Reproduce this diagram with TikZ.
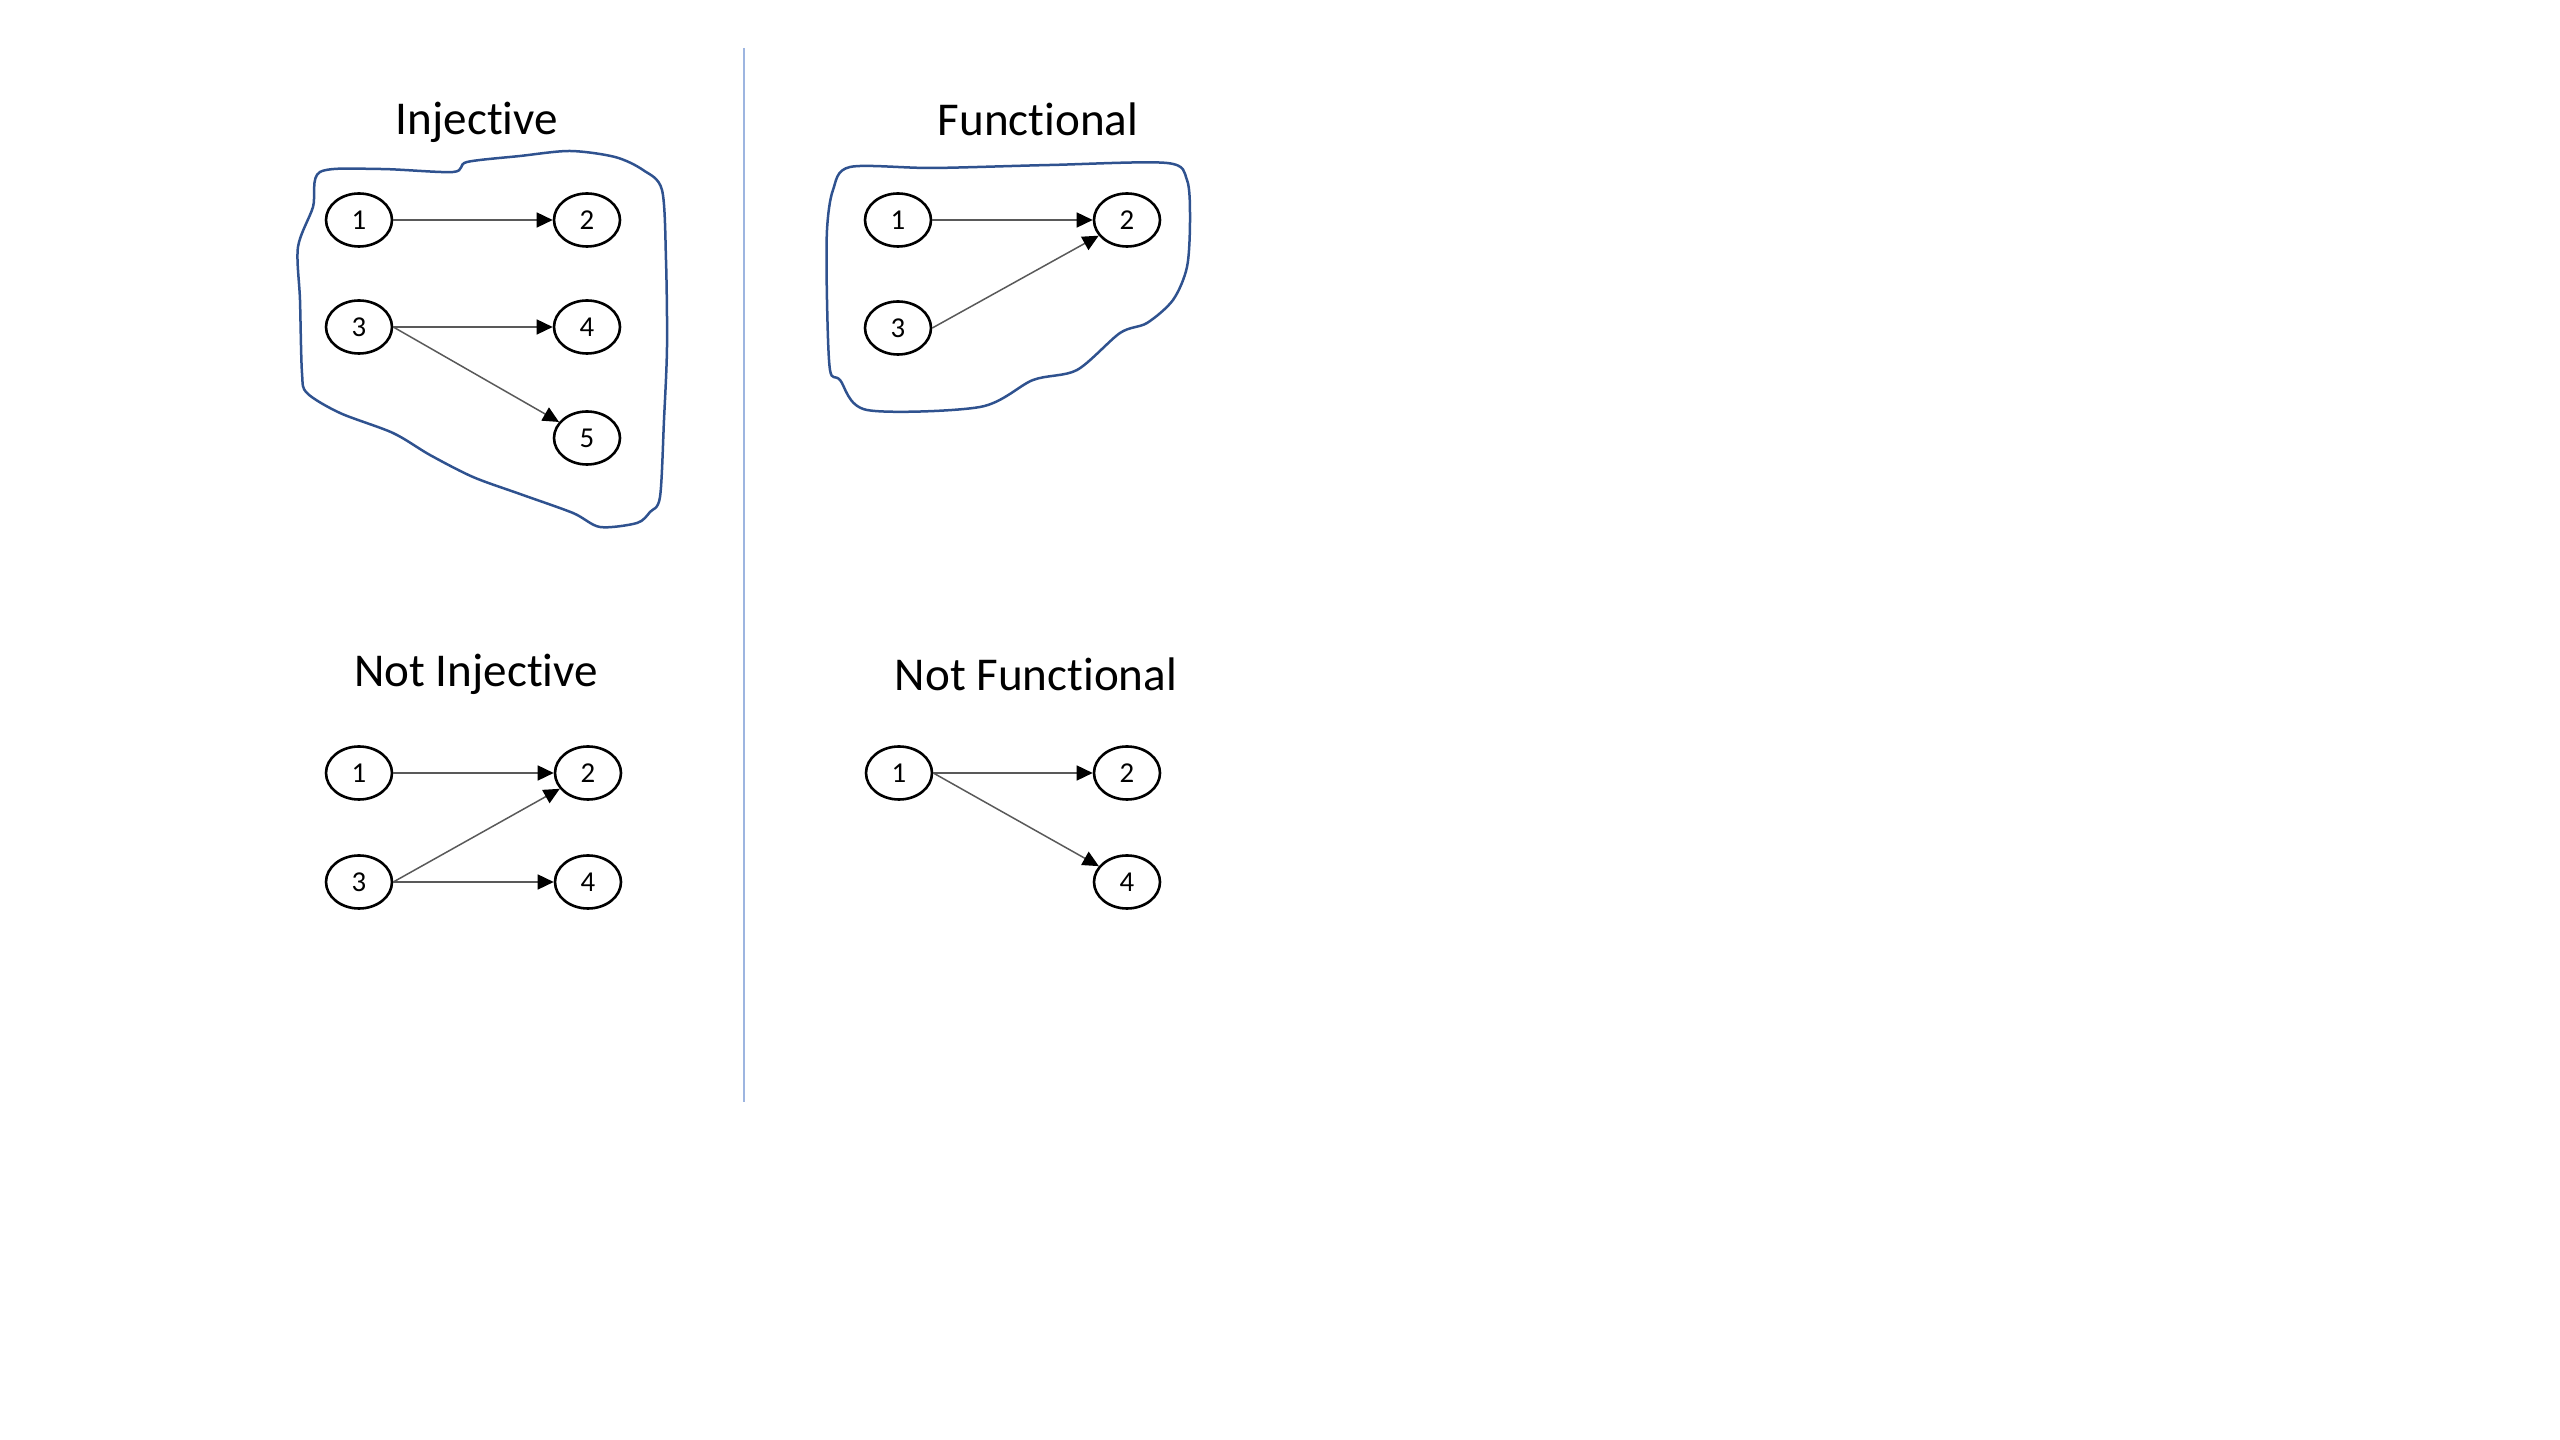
\documentclass[tikz,border=0pt]{standalone}
\usepackage{fontspec}
\setmainfont{Carlito}[Ligatures=NoCommon]
\usetikzlibrary{arrows.meta,shapes.geometric}
\definecolor{blobblue}{HTML}{2F528F}
\definecolor{lineblue}{HTML}{9DB5E0}
\tikzset{
  elem/.style={draw, ellipse, line width=0.26mm, minimum width=6.6mm, minimum height=5.3mm,
    inner sep=0pt, font=\fontsize{8.2pt}{9pt}\selectfont},
  title/.style={font=\fontsize{13.4pt}{15pt}\selectfont},
  maps/.style={draw=black!65, line width=0.15mm, -{Triangle[length=1.6mm,width=1.5mm,color=black]}},
  blob/.style={draw=blobblue, line width=0.25mm}
}
\begin{document}
\begin{tikzpicture}[x=0.1mm, y=-0.1mm]
\useasboundingbox (0,0) rectangle (2560,1440);
%--- Divider ---
\coordinate (top) at (744,48);
\coordinate (bot) at (744,1102);
\draw[lineblue, line width=0.25mm] (top) -- (bot);
%--- Injective ---
\node[title] (tinj) at (477,122) {Injective};
\draw[blob] plot[smooth cycle, tension=0.5] coordinates {
  (320,172) (380,169) (453,172) (467,162) (520,156) (570,151) (615,157) (643,170)
  (662,190) (666,260) (667,347) (664,420) (660,497) (650,512) (637,523) (600,527)
  (573,513) (520,494) (473,477) (430,455) (393,433) (340,413) (307,393) (302,373)
  (300,300) (298,247) (313,207)};
\node[elem] (i1) at (359,220) {1};
\node[elem] (i2) at (587,220) {2};
\node[elem] (i3) at (359,327) {3};
\node[elem] (i4) at (587,327) {4};
\node[elem] (i5) at (587,438) {5};
\draw[maps] (i1) -- (i2);
\draw[maps] (i3) -- (i4);
\draw[maps] (i3.east) -- (i5);
%--- Functional ---
\node[title] (tfun) at (1038,119) {Functional};
\draw[blob] plot[smooth cycle, tension=0.5] coordinates {
  (850,167) (933,168) (1050,165) (1167,163) (1187,180) (1190,220) (1187,267)
  (1173,300) (1147,323) (1120,333) (1077,370) (1033,380) (980,407) (867,410)
  (840,380) (830,370) (827,300) (827,230) (833,190)};
\node[elem] (f1) at (898,220) {1};
\node[elem] (f2) at (1127,220) {2};
\node[elem] (f3) at (898,328) {3};
\draw[maps] (f1) -- (f2);
\draw[maps] (f3.east) -- (f2);
%--- Not Injective ---
\node[title] (tninj) at (476,674) {Not Injective};
\node[elem] (n1) at (359,773) {1};
\node[elem] (n2) at (588,773) {2};
\node[elem] (n3) at (359,882) {3};
\node[elem] (n4) at (588,882) {4};
\draw[maps] (n1) -- (n2);
\draw[maps] (n3.east) -- (n2);
\draw[maps] (n3) -- (n4);
%--- Not Functional ---
\node[title] (tnfun) at (1036,674) {Not Functional};
\node[elem] (m1) at (899,773) {1};
\node[elem] (m2) at (1127,773) {2};
\node[elem] (m4) at (1127,882) {4};
\draw[maps] (m1) -- (m2);
\draw[maps] (m1.east) -- (m4);
\end{tikzpicture}
\end{document}
